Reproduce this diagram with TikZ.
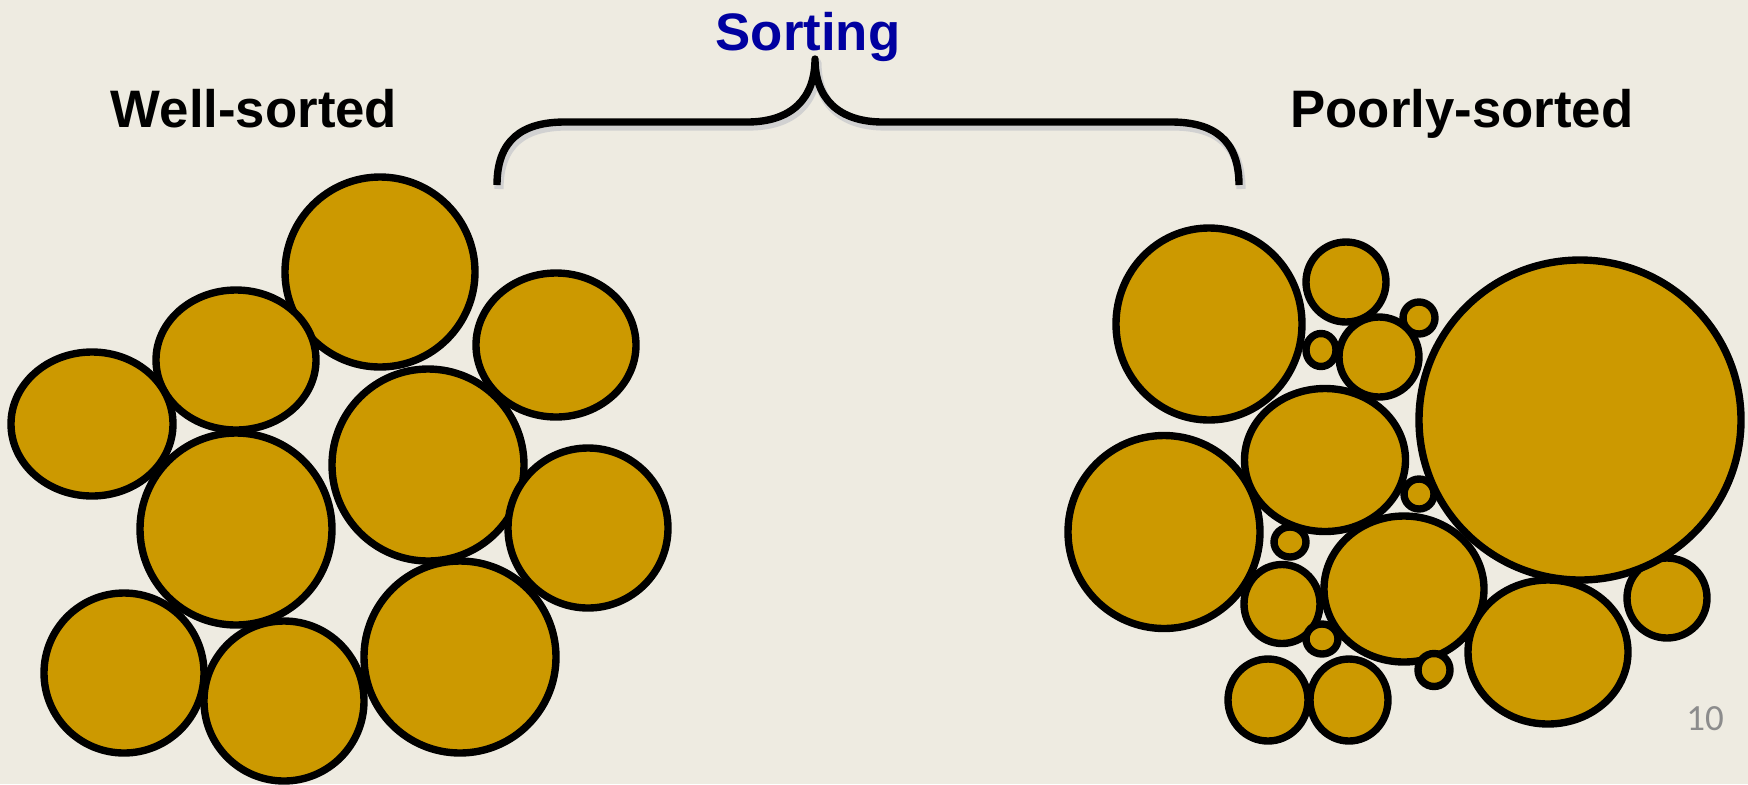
\documentclass[tikz,border=0pt]{standalone}
\usepackage{fontspec}
\setmainfont{Liberation Sans}
\newfontfamily\slidenumfont{Carlito}
\usepackage{tikz}
\definecolor{paper}{RGB}{238,235,225}
\definecolor{grain}{RGB}{204,153,0}
\definecolor{sortblue}{RGB}{0,0,160}
\definecolor{numgray}{RGB}{140,140,140}

\begin{document}
\begin{tikzpicture}[
x=0.01cm, y=-0.01cm,
grainball/.style={draw=black, fill=grain, line width=2.1pt},
heading/.style={anchor=base, font=\fontsize{15}{18}\selectfont\bfseries},
bracket/.style={line width=2.1pt, line join=round},
]
\fill[paper] (0,0) rectangle (1748,784);
\useasboundingbox (0,0) rectangle (1748,784);

\node[heading] (well) at (254,127) {Well-sorted};
\node[heading] (poor) at (1462,127) {Poorly-sorted};
\node[heading, text=sortblue] (sorting) at (808,50) {Sorting};
\node[anchor=base, text=numgray, font=\slidenumfont\fontsize{10.5}{12}\selectfont] (pagenum) at (1705,730) {10};

% the curly bracket, with its soft shadow
\draw[bracket, black!18, line width=2.6pt, shift={(2,4)}]
(497,185) .. controls (497,140) and (522,122) .. (565,122) -- (747,122)
.. controls (792,122) and (815,98) .. (815,59)
.. controls (815,98) and (838,122) .. (883,122) -- (1171,122)
.. controls (1214,122) and (1239,140) .. (1239,185);
\draw[bracket]
(497,185) .. controls (497,140) and (522,122) .. (565,122) -- (747,122)
.. controls (792,122) and (815,98) .. (815,59)
.. controls (815,98) and (838,122) .. (883,122) -- (1171,122)
.. controls (1214,122) and (1239,140) .. (1239,185);

% well-sorted grains
\foreach \cx/\cy/\rx/\ry in {
380/272/95/95, 236/360/80/70, 92/424/81/72, 556/345/80/72,
428/465/96/96, 236/529/96/96, 588/528/80/80, 124/673/80/80,
284/701/80/80, 460/657/96/96}
\draw[grainball] (\cx,\cy) ellipse [x radius=\rx, y radius=\ry];

% poorly-sorted grains
\foreach \cx/\cy/\rx/\ry in {
1209/324/93/96, 1346/282/40/40, 1419/318/16/16, 1379/357/40/40,
1321/350/15/16.5, 1325/460/80.5/71.5, 1164/532/96/96.5, 1419/494/15/15,
1290/542/16/15, 1282/604/38/39.5, 1404/589/80/73, 1322/639/16/15,
1434/670/16/16.5, 1667/598/40/40, 1548/652/80/72, 1580/420/161/160,
1268/700/40/41, 1349/700/39/41}
\draw[grainball] (\cx,\cy) ellipse [x radius=\rx, y radius=\ry];
\end{tikzpicture}
\end{document}
